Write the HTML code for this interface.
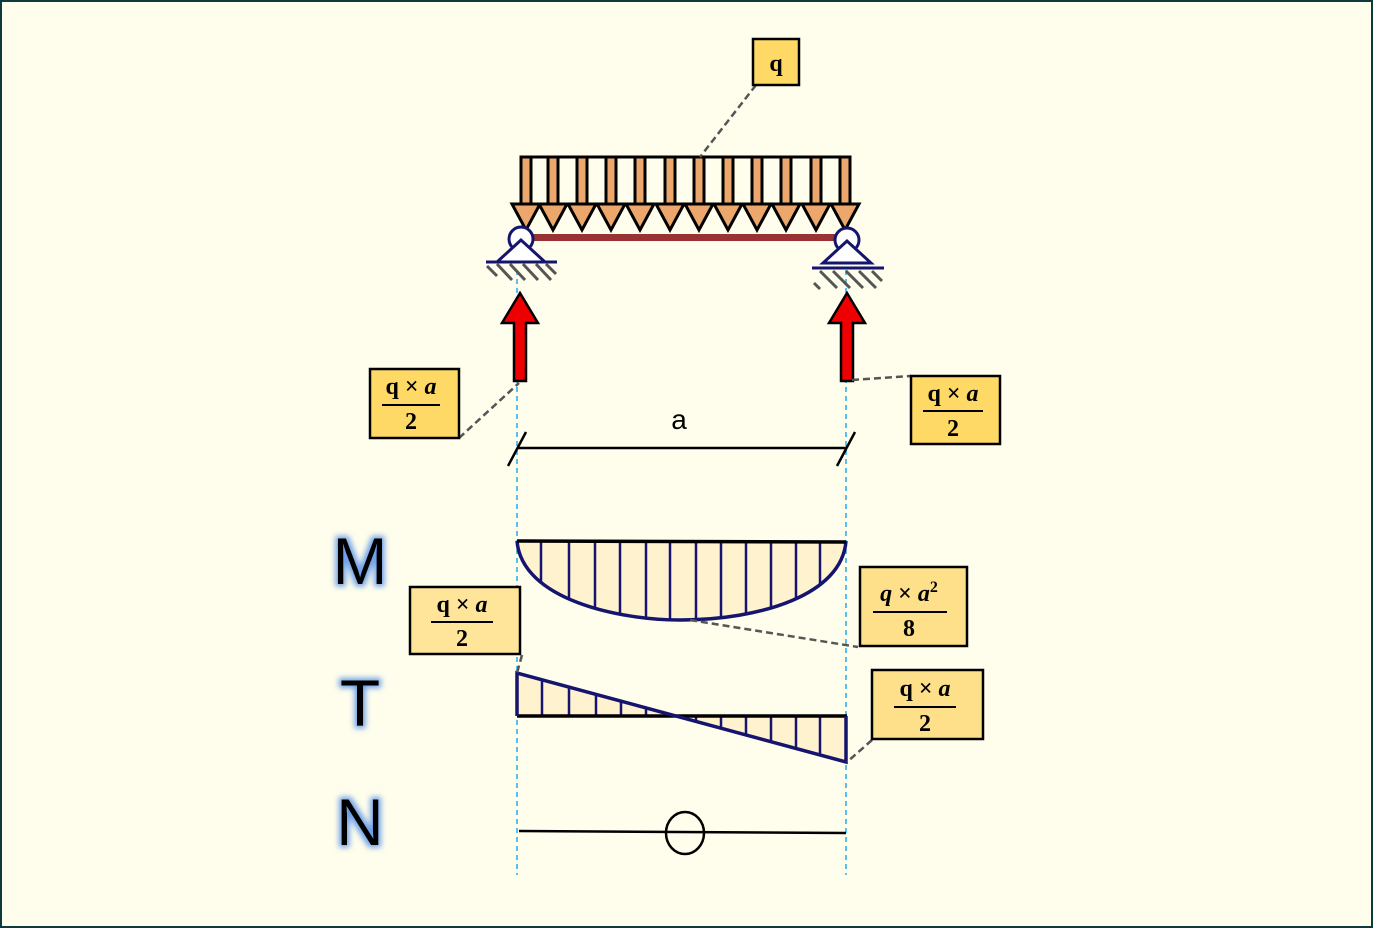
<!DOCTYPE html>
<html><head><meta charset="utf-8"><style>
html,body{margin:0;padding:0;}
body{width:1373px;height:928px;overflow:hidden;background:#fffeec;}
svg{display:block}
.f{font-family:"Liberation Serif",serif;font-weight:bold;font-size:24px;}
.L{font-family:"Liberation Sans",sans-serif;font-size:66px;fill:#000;}
</style></head><body>
<svg width="1373" height="928" viewBox="0 0 1373 928" xmlns="http://www.w3.org/2000/svg">
<defs>
<filter id="glow" x="-30%" y="-30%" width="160%" height="160%">
<feMorphology in="SourceAlpha" operator="dilate" radius="2.5" result="d"/>
<feGaussianBlur in="d" stdDeviation="3" result="b"/>
<feFlood flood-color="#6fa0e8"/>
<feComposite in2="b" operator="in" result="g"/>
<feMerge><feMergeNode in="g"/><feMergeNode in="SourceGraphic"/></feMerge>
</filter>
<clipPath id="cm"><path d="M517,541 C522,600 620,620 680,620 C760,620 842,595 846,541 Z"/></clipPath>
<clipPath id="ct"><path d="M517,673 L682,716 L517,716 Z M682,716 L846,716 L846,762 Z"/></clipPath>
</defs>
<rect x="1" y="1" width="1371" height="926" fill="#fffeec" stroke="#0d3b3b" stroke-width="2"/>

<g stroke="#22aaee" stroke-width="1.5" stroke-dasharray="5,4">
<line x1="517" y1="270" x2="517" y2="875"/>
<line x1="846" y1="270" x2="846" y2="875"/>
</g>

<line x1="521" y1="157" x2="850" y2="157" stroke="#000" stroke-width="3"/>
<g fill="#eca86c" stroke="#000" stroke-width="3">
<rect x="521" y="157" width="10" height="47"/><rect x="548" y="157" width="10" height="47"/><rect x="577" y="157" width="10" height="47"/><rect x="606" y="157" width="10" height="47"/><rect x="635" y="157" width="10" height="47"/><rect x="665" y="157" width="10" height="47"/><rect x="694" y="157" width="10" height="47"/><rect x="723" y="157" width="10" height="47"/><rect x="752" y="157" width="10" height="47"/><rect x="781" y="157" width="10" height="47"/><rect x="811" y="157" width="10" height="47"/><rect x="840" y="157" width="10" height="47"/>
<path d="M512,204h28l-14,26z M539,204h28l-14,26z M568,204h28l-14,26z M597,204h28l-14,26z M626,204h28l-14,26z M656,204h28l-14,26z M685,204h28l-14,26z M714,204h28l-14,26z M743,204h28l-14,26z M772,204h28l-14,26z M802,204h28l-14,26z M831,204h28l-14,26z"/>
</g>
<rect x="522" y="234" width="324" height="7" fill="#993333"/>
<g stroke="#151570" stroke-width="3" fill="#fff">
<circle cx="521" cy="239" r="12"/>
<path d="M521,240 L497,262 L545,262 Z"/>
<line x1="486" y1="262" x2="557" y2="262"/>
<circle cx="847" cy="240" r="12"/>
<path d="M847,241 L823,263 L871,263 Z"/>
<line x1="812" y1="268" x2="884" y2="268"/>
</g>
<g stroke="#555" stroke-width="3">
<line x1="487" y1="266" x2="497" y2="276"/><line x1="497" y1="264" x2="512" y2="280"/><line x1="510" y1="264" x2="525" y2="280"/><line x1="523" y1="264" x2="538" y2="280"/><line x1="536" y1="264" x2="551" y2="280"/><line x1="546" y1="264" x2="556" y2="274"/>
<line x1="814" y1="283" x2="820" y2="289"/><line x1="820" y1="271" x2="837" y2="288"/><line x1="833" y1="271" x2="850" y2="288"/><line x1="846" y1="271" x2="863" y2="288"/><line x1="859" y1="271" x2="876" y2="288"/><line x1="872" y1="271" x2="882" y2="281"/>
</g>

<g fill="#ee0000" stroke="#000" stroke-width="2.5">
<path d="M514,323 V381 H526 V323 H538 L520,293 L502,323 Z"/>
<path d="M841,323 V381 H853 V323 H865 L847,293 L829,323 Z"/>
</g>

<g stroke="#000" stroke-width="2.5">
<line x1="517" y1="448" x2="846" y2="448"/>
<line x1="508" y1="466" x2="526" y2="432"/>
<line x1="837" y1="466" x2="855" y2="432"/>
</g>
<text x="679" y="429" font-family="Liberation Sans,sans-serif" font-size="28" text-anchor="middle">a</text>

<path d="M517,541 C522,600 620,620 680,620 C760,620 842,595 846,541 Z" fill="#fff2cf"/>
<g clip-path="url(#cm)" stroke="#151570" stroke-width="2.5">
<line x1="541" y1="540" x2="541" y2="640"/><line x1="569" y1="540" x2="569" y2="640"/><line x1="595" y1="540" x2="595" y2="640"/><line x1="620" y1="540" x2="620" y2="640"/><line x1="646" y1="540" x2="646" y2="640"/><line x1="670" y1="540" x2="670" y2="640"/><line x1="696" y1="540" x2="696" y2="640"/><line x1="721" y1="540" x2="721" y2="640"/><line x1="746" y1="540" x2="746" y2="640"/><line x1="771" y1="540" x2="771" y2="640"/><line x1="796" y1="540" x2="796" y2="640"/><line x1="820" y1="540" x2="820" y2="640"/>
</g>
<path d="M517,541 C522,600 620,620 680,620 C760,620 842,595 846,541" fill="none" stroke="#151570" stroke-width="3.5"/>
<line x1="517" y1="541" x2="846" y2="542" stroke="#000" stroke-width="3.5"/>

<path d="M517,673 L682,716 L517,716 Z M682,716 L846,716 L846,762 Z" fill="#fff2cf"/>
<g clip-path="url(#ct)" stroke="#151570" stroke-width="2.5">
<line x1="542" y1="670" x2="542" y2="770"/><line x1="569" y1="670" x2="569" y2="770"/><line x1="596" y1="670" x2="596" y2="770"/><line x1="621" y1="670" x2="621" y2="770"/><line x1="646" y1="670" x2="646" y2="770"/><line x1="696" y1="670" x2="696" y2="770"/><line x1="721" y1="670" x2="721" y2="770"/><line x1="746" y1="670" x2="746" y2="770"/><line x1="771" y1="670" x2="771" y2="770"/><line x1="796" y1="670" x2="796" y2="770"/><line x1="820" y1="670" x2="820" y2="770"/>
</g>
<line x1="517" y1="716" x2="847" y2="716" stroke="#000" stroke-width="3.5"/>
<path d="M517,716 V673 L846,762 V716" fill="none" stroke="#151570" stroke-width="3.5"/>

<line x1="519" y1="831" x2="846" y2="833" stroke="#000" stroke-width="2.5"/>
<ellipse cx="685" cy="833" rx="19" ry="21" fill="none" stroke="#000" stroke-width="2.5"/>

<g filter="url(#glow)">
<text class="L" x="360" y="584" text-anchor="middle">M</text>
<text class="L" x="360" y="726" text-anchor="middle">T</text>
<text class="L" x="360" y="845" text-anchor="middle">N</text>
</g>

<g stroke="#555" stroke-width="2.5" stroke-dasharray="7,4" fill="none">
<line x1="756" y1="85" x2="700" y2="157"/>
<line x1="459" y1="438" x2="519" y2="383"/>
<line x1="852" y1="380" x2="911" y2="376"/>
<line x1="690" y1="620" x2="858" y2="647"/>
<line x1="522" y1="655" x2="517" y2="673"/>
<line x1="872" y1="740" x2="847" y2="762"/>
</g>

<g stroke="#000" stroke-width="2.5">
<rect x="753" y="39" width="46" height="46" fill="#ffd966"/>
<rect x="370" y="369" width="89" height="69" fill="#ffd966"/>
<rect x="911" y="376" width="89" height="68" fill="#ffd966"/>
<rect x="410" y="587" width="110" height="67" fill="#ffe599"/>
<rect x="860" y="567" width="107" height="79" fill="#ffe08a"/>
<rect x="872" y="670" width="111" height="69" fill="#ffe08a"/>
</g>
<text class="f" x="776" y="71" text-anchor="middle">q</text>
<g class="f" text-anchor="middle">
<text x="411" y="394">q × <tspan font-style="italic">a</tspan></text>
<line x1="382" y1="405" x2="440" y2="405" stroke="#000" stroke-width="2"/>
<text x="411" y="429">2</text>
<text x="953" y="401">q × <tspan font-style="italic">a</tspan></text>
<line x1="923" y1="411" x2="983" y2="411" stroke="#000" stroke-width="2"/>
<text x="953" y="436">2</text>
<text x="462" y="612">q × <tspan font-style="italic">a</tspan></text>
<line x1="431" y1="622" x2="493" y2="622" stroke="#000" stroke-width="2"/>
<text x="462" y="646">2</text>
<text x="909" y="601"><tspan font-style="italic">q</tspan> × <tspan font-style="italic">a</tspan><tspan font-size="16" dy="-9">2</tspan></text>
<line x1="873" y1="612" x2="947" y2="612" stroke="#000" stroke-width="2"/>
<text x="909" y="636">8</text>
<text x="925" y="696">q × <tspan font-style="italic">a</tspan></text>
<line x1="894" y1="707" x2="956" y2="707" stroke="#000" stroke-width="2"/>
<text x="925" y="731">2</text>
</g>
</svg>
</body></html>
